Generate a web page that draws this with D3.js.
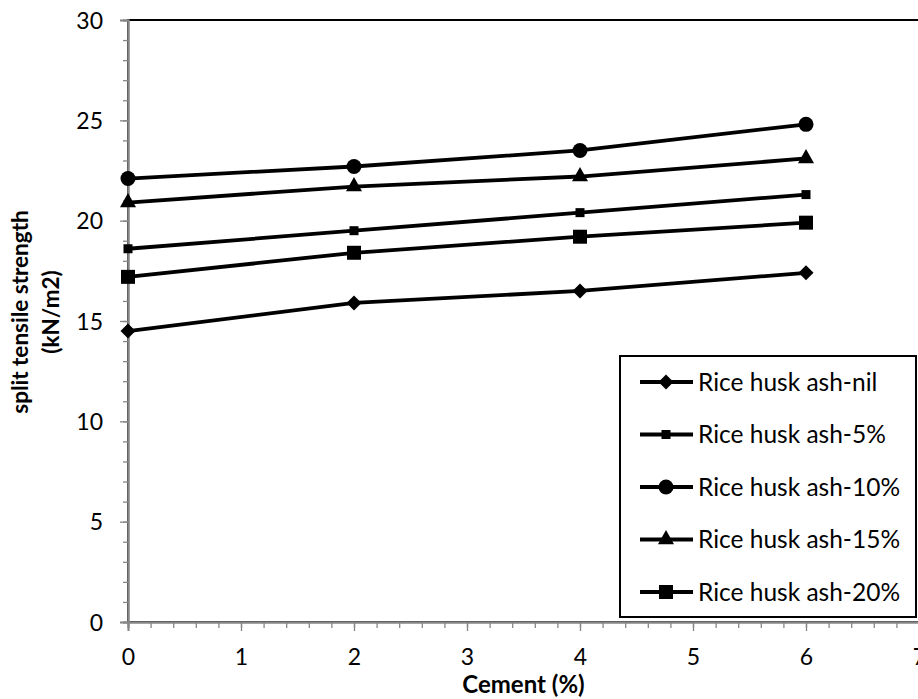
<!DOCTYPE html>
<html>
<head>
<meta charset="utf-8">
<script src="https://cdn.jsdelivr.net/npm/d3@7"></script>
<style>
  html, body { margin: 0; padding: 0; background: #fff; }
  svg { display: block; }
  text { font-family: Lato, "Open Sans", sans-serif; fill: #000; }
</style>
</head>
<body>
<svg id="chart" width="918" height="699"></svg>
<script>
// Cement content (%) on the x axis
const cement = [0, 2, 4, 6];

// Split tensile strength (kN/m2) for each rice husk ash dosage
const ashNil = [14.5, 15.9, 16.5, 17.4];
const ash5   = [18.6, 19.5, 20.4, 21.3];
const ash10  = [22.1, 22.7, 23.5, 24.8];
const ash15  = [20.9, 21.7, 22.2, 23.1];
const ash20  = [17.2, 18.4, 19.2, 19.9];

const seriesNames = ["Rice husk ash-nil", "Rice husk ash-5%", "Rice husk ash-10%", "Rice husk ash-15%", "Rice husk ash-20%"];
const seriesMarkers = ["diamond", "smallSquare", "circle", "triangle", "bigSquare"];

const xTicks = [0, 1, 2, 3, 4, 5, 6, 7];
const yTicks = [0, 5, 10, 15, 20, 25, 30];

const series = [ashNil, ash5, ash10, ash15, ash20].map((vals, i) => ({
  name: seriesNames[i],
  marker: seriesMarkers[i],
  points: cement.map((c, j) => ({ x: c, y: vals[j] }))
}));

const svg = d3.select("#chart");
const plot = { left: 128, right: 919, top: 20, bottom: 622 };

const x = d3.scaleLinear().domain([0, 7]).range([plot.left, plot.right]);
const y = d3.scaleLinear().domain([0, 30]).range([plot.bottom, plot.top]);

// marker shapes centred on (0,0)
function markerPath(kind) {
  const p = d3.path();
  if (kind === "circle") {
    p.arc(0, 0, 7.5, 0, 2 * Math.PI);
  } else if (kind === "smallSquare") {
    p.rect(-4.5, -4.5, 9, 9);
  } else if (kind === "bigSquare") {
    p.rect(-7, -7, 14, 14);
  } else if (kind === "diamond") {
    p.moveTo(0, -7.5); p.lineTo(7.5, 0); p.lineTo(0, 7.5); p.lineTo(-7.5, 0); p.closePath();
  } else if (kind === "triangle") {
    p.moveTo(0, -9.5); p.lineTo(8, 4.7); p.lineTo(-8, 4.7); p.closePath();
  }
  return p.toString();
}

// plot area frame
svg.append("rect")
  .attr("x", plot.left).attr("y", plot.top)
  .attr("width", plot.right - plot.left).attr("height", plot.bottom - plot.top)
  .attr("fill", "none").attr("stroke", "#000").attr("stroke-width", 2);

// minor ticks
const xMinor = d3.range(0, 7.0001, 0.2);
const yMinor = d3.range(0, 30.0001, 1);

const axisColor = "#868686";

const gxMinor = svg.append("g")
  .attr("transform", `translate(0,${plot.bottom})`)
  .call(d3.axisBottom(x).tickValues(xMinor).tickSize(6).tickFormat(""));
const gyMinor = svg.append("g")
  .attr("transform", `translate(${plot.left},0)`)
  .call(d3.axisLeft(y).tickValues(yMinor).tickSize(5).tickFormat(""));

const gx = svg.append("g")
  .attr("transform", `translate(0,${plot.bottom})`)
  .call(d3.axisBottom(x).tickValues(xTicks).tickSize(9).tickPadding(18).tickFormat(d3.format("d")));
const gy = svg.append("g")
  .attr("transform", `translate(${plot.left},0)`)
  .call(d3.axisLeft(y).tickValues(yTicks).tickSize(8).tickPadding(17).tickFormat(d3.format("d")));

[gxMinor, gyMinor, gx, gy].forEach(g => {
  g.selectAll(".domain").attr("stroke", axisColor).attr("stroke-width", 2);
  g.selectAll(".tick line").attr("stroke", axisColor).attr("stroke-width", 1.3);
  g.selectAll(".tick text")
    .attr("font-family", "Lato, 'Open Sans', sans-serif")
    .attr("font-size", 23).attr("fill", "#000");
});
gx.selectAll(".tick text").attr("dy", "0.71em");
gy.selectAll(".tick text").attr("dy", "0.36em");

// series lines and markers
const line = d3.line().x(d => x(d.x)).y(d => y(d.y));

series.forEach(s => {
  svg.append("path")
    .datum(s.points)
    .attr("d", line)
    .attr("fill", "none")
    .attr("stroke", "#000")
    .attr("stroke-width", 3.8)
    .attr("stroke-linejoin", "round");
  svg.append("g").selectAll("path")
    .data(s.points)
    .join("path")
    .attr("transform", d => `translate(${x(d.x)},${y(d.y)})`)
    .attr("d", markerPath(s.marker))
    .attr("fill", "#000");
});

// axis titles
svg.append("text")
  .attr("x", (plot.left + plot.right) / 2)
  .attr("y", 693)
  .attr("text-anchor", "middle")
  .attr("font-weight", "bold")
  .attr("font-size", 24)
  .text("Cement (%)");

const yTitle = svg.append("text")
  .attr("transform", "translate(0,312) rotate(-90)")
  .attr("text-anchor", "middle")
  .attr("font-weight", "bold")
  .attr("font-size", 22.5);
yTitle.append("tspan").attr("x", 0).attr("y", 28).text("split tensile strength");
yTitle.append("tspan").attr("x", 0).attr("y", 59).text("(kN/m2)");

// legend
const legend = svg.append("g");
legend.append("rect")
  .attr("x", 620).attr("y", 356)
  .attr("width", 296).attr("height", 261)
  .attr("fill", "#fff").attr("stroke", "#000").attr("stroke-width", 2);

const rowY = d3.scalePoint().domain(seriesNames).range([382, 592]);

const rows = legend.selectAll("g.row")
  .data(series)
  .join("g")
  .attr("class", "row")
  .attr("transform", d => `translate(0,${rowY(d.name)})`);

rows.append("line")
  .attr("x1", 640).attr("x2", 693)
  .attr("y1", 0).attr("y2", 0)
  .attr("stroke", "#000").attr("stroke-width", 3.8);
rows.append("path")
  .attr("transform", "translate(666,0)")
  .attr("d", d => markerPath(d.marker))
  .attr("fill", "#000");
rows.append("text")
  .attr("x", 698).attr("y", 0)
  .attr("dy", "0.35em")
  .attr("font-size", 24.5)
  .text(d => d.name);
</script>
</body>
</html>
